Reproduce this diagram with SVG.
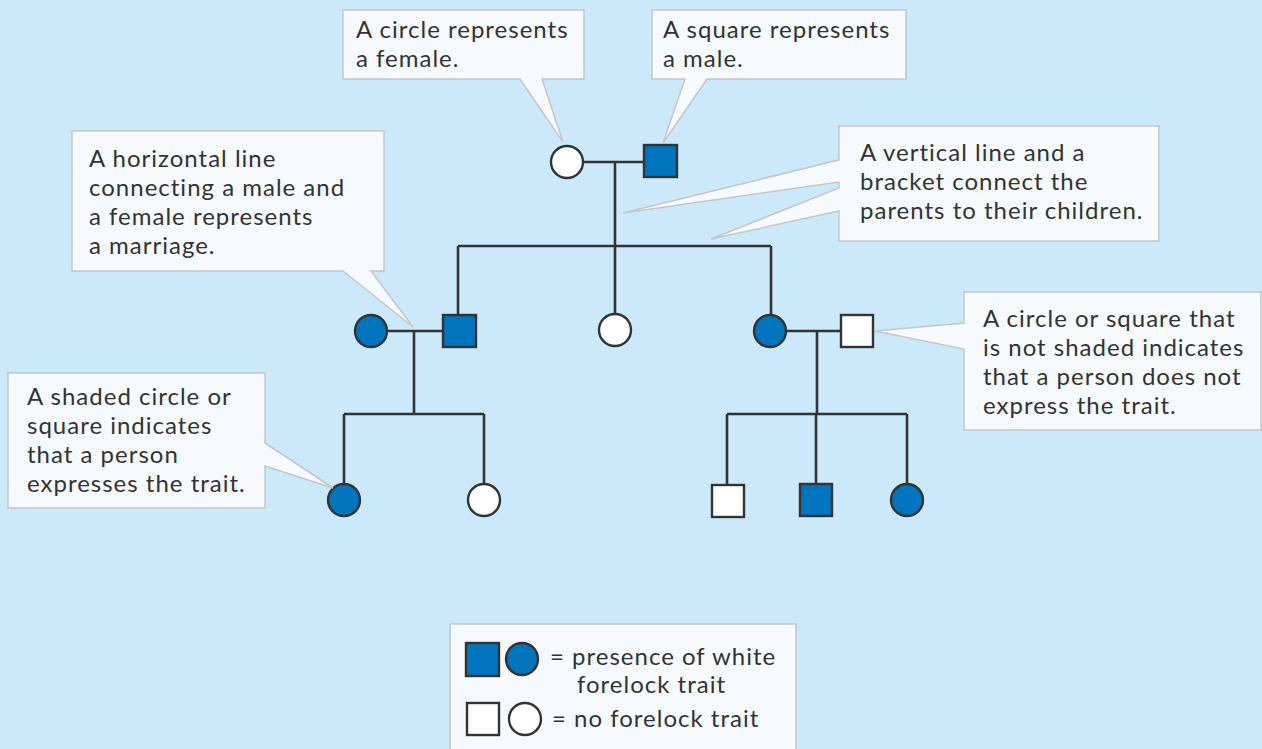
<svg xmlns="http://www.w3.org/2000/svg" width="1262" height="749" viewBox="0 0 1262 749">
  <style>
    .bg { fill: #cce9fb; }
    .callout { fill: #f6fafe; stroke: #c6c6c6; stroke-width: 1.5; }
    .txt { font-family: Lato, "Open Sans", sans-serif; font-size: 24px; letter-spacing: 1px; fill: #333333; }
    .link { fill: none; stroke: #333333; stroke-width: 2.6; }
    .on { fill: #0074bd; stroke: #333333; stroke-width: 2.4; }
    .off { fill: #ffffff; stroke: #333333; stroke-width: 2.4; }
  </style>

  <rect class="bg" x="0" y="0" width="1262" height="749"/>

  <!-- pedigree lines: marriages, descent lines and sibling brackets -->
  <g id="connectors">
    <path class="link" d="M583,162 H644 M615,162 V246 M458,246 H771 M458,246 V315 M615,246 V314 M771,246 V314"/>
    <path class="link" d="M387,331 H443 M414,331 V414 M344,414 H484 M344,414 V484 M484,414 V484"/>
    <path class="link" d="M785,331 H841 M817,331 V414 M727,414 H907 M727,414 V485 M816,414 V484 M907,414 V484"/>
  </g>

  <!-- generation I -->
  <g id="gen1-mother"><circle class="off" cx="567" cy="162" r="16"/></g>
  <g id="gen1-father"><rect class="on" x="644" y="145" width="33" height="32"/></g>

  <!-- generation II -->
  <g id="gen2-wife-left"><circle class="on" cx="371" cy="331" r="16"/></g>
  <g id="gen2-son"><rect class="on" x="443" y="315" width="33" height="32"/></g>
  <g id="gen2-daughter-middle"><circle class="off" cx="615" cy="330" r="16"/></g>
  <g id="gen2-daughter-right"><circle class="on" cx="770" cy="331" r="16"/></g>
  <g id="gen2-husband-right"><rect class="off" x="841" y="315" width="32" height="32"/></g>

  <!-- generation III -->
  <g id="gen3-left-daughter1"><circle class="on" cx="344" cy="500" r="16"/></g>
  <g id="gen3-left-daughter2"><circle class="off" cx="484" cy="500" r="16"/></g>
  <g id="gen3-right-son1"><rect class="off" x="712" y="485" width="32" height="32"/></g>
  <g id="gen3-right-son2"><rect class="on" x="800" y="484" width="32" height="32"/></g>
  <g id="gen3-right-daughter"><circle class="on" cx="907" cy="500" r="16"/></g>

  <!-- callouts -->
  <g id="note-circle">
    <path class="callout" d="M343,10 H584 V79 H542 L563,142 L520,79 H343 Z"/>
    <text class="txt" x="356" y="38">A circle represents</text>
    <text class="txt" x="356" y="67">a female.</text>
  </g>

  <g id="note-square">
    <path class="callout" d="M652,10 H906 V79 H707 L663,143 L685,79 H652 Z"/>
    <text class="txt" x="663" y="38">A square represents</text>
    <text class="txt" x="663" y="67">a male.</text>
  </g>

  <g id="note-marriage">
    <path class="callout" d="M72,131 H384 V271 H371 L413,327 L343,271 H72 Z"/>
    <text class="txt" x="89" y="167">A horizontal line</text>
    <text class="txt" x="89" y="196">connecting a male and</text>
    <text class="txt" x="89" y="225">a female represents</text>
    <text class="txt" x="89" y="254">a marriage.</text>
  </g>

  <g id="note-bracket">
    <path class="callout" d="M839,126 H1159 V241 H839 V211 L711,239 L839,188 V182 L623,213 L839,160 Z"/>
    <text class="txt" x="860" y="161">A vertical line and a</text>
    <text class="txt" x="860" y="190">bracket connect the</text>
    <text class="txt" x="860" y="219">parents to their children.</text>
  </g>

  <g id="note-unshaded">
    <path class="callout" d="M964,292 H1261 V430 H964 V349 L875,331 L964,323 Z"/>
    <text class="txt" x="983" y="327">A circle or square that</text>
    <text class="txt" x="983" y="356">is not shaded indicates</text>
    <text class="txt" x="983" y="385">that a person does not</text>
    <text class="txt" x="983" y="414">express the trait.</text>
  </g>

  <g id="note-shaded">
    <path class="callout" d="M8,373 H265 V443 L333,488 L265,466 V508 H8 Z"/>
    <text class="txt" x="27" y="405">A shaded circle or</text>
    <text class="txt" x="27" y="434">square indicates</text>
    <text class="txt" x="27" y="463">that a person</text>
    <text class="txt" x="27" y="492">expresses the trait.</text>
  </g>

  <!-- key -->
  <g id="legend">
    <rect class="callout" x="450" y="624" width="346" height="140"/>
    <rect class="on" x="466" y="643" width="33" height="33"/>
    <circle class="on" cx="522" cy="659" r="16"/>
    <text class="txt" x="550" y="665">= presence of white</text>
    <text class="txt" x="577" y="693">forelock trait</text>
    <rect class="off" x="467" y="703" width="32" height="32"/>
    <circle class="off" cx="525" cy="719" r="16"/>
    <text class="txt" x="552" y="727">= no forelock trait</text>
  </g>
</svg>
